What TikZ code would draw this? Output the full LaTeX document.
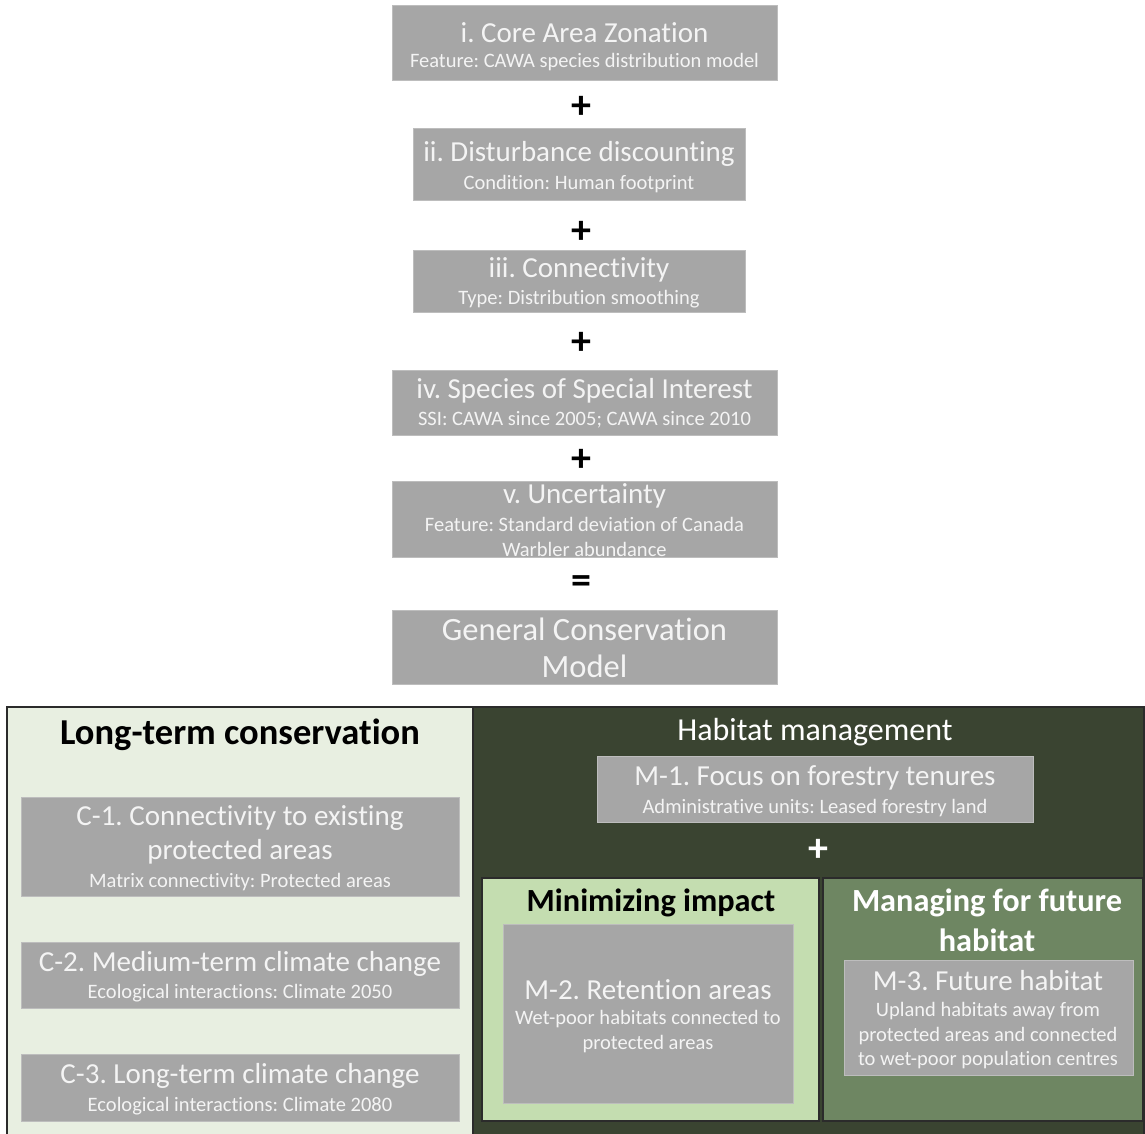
\documentclass[tikz,border=0pt]{standalone}
\usepackage{fontspec}
\setmainfont[Ligatures=NoCommon]{Carlito}
\frenchspacing
\definecolor{boxgray}{HTML}{A6A6A6}
\definecolor{boxedge}{HTML}{BDBDBD}
\definecolor{boxtext}{HTML}{F4F4F4}
\definecolor{lightpanel}{HTML}{E8EFE1}
\definecolor{darkpanel}{HTML}{3A4431}
\definecolor{minpanel}{HTML}{C4DDB0}
\definecolor{futpanel}{HTML}{6E8662}
\definecolor{paneledge}{HTML}{2B2B2B}
\newcommand{\fs}[1]{\fontsize{#1}{#1}\selectfont}
\begin{document}
\begin{tikzpicture}[x=1pt,y=-1pt,
  gbox/.style={draw=boxedge,line width=1pt,fill=boxgray,inner sep=0pt,outer sep=0pt},
  panel/.style={draw=paneledge,line width=1.6pt,inner sep=0pt,outer sep=0pt},
  ttl/.style={text=boxtext,inner sep=0pt,font=\fs{29}},
  big/.style={text=boxtext,inner sep=0pt,font=\fs{32.5}},
  sub/.style={text=boxtext,inner sep=0pt,font=\fs{20.5}},
  op/.style={inner sep=0pt,font=\fs{40}\bfseries},
  hdr/.style={inner sep=0pt,font=\fs{36.5}\bfseries}]
\useasboundingbox (0,0) rectangle (1145,1134);
\fill[white] (0,0) rectangle (1145,1134);

% ---------- top chain ----------
\node[gbox,minimum width=385pt,minimum height=75pt] (b1) at (584.5,43.5) {};
\node[ttl] (b1t) at (584.5,33) {i. Core Area Zonation};
\node[sub] (b1s) at (584.5,62) {Feature: CAWA species distribution model};
\node[op] (p1) at (581,107) {+};

\node[gbox,minimum width=332pt,minimum height=72pt] (b2) at (579,165) {};
\node[ttl] (b2t) at (579,154) {ii. Disturbance discounting};
\node[sub] (b2s) at (579,184) {Condition: Human footprint};
\node[op] (p2) at (581,232) {+};

\node[gbox,minimum width=332pt,minimum height=62pt] (b3) at (579,281) {};
\node[ttl] (b3t) at (579,270) {iii. Connectivity};
\node[sub] (b3s) at (579,299) {Type: Distribution smoothing};
\node[op] (p3) at (581,343) {+};

\node[gbox,minimum width=385pt,minimum height=65pt] (b4) at (584.5,402.5) {};
\node[ttl] (b4t) at (584.5,391) {iv. Species of Special Interest};
\node[sub] (b4s) at (584.5,420) {SSI: CAWA since 2005; CAWA since 2010};
\node[op] (p4) at (581,460) {+};

\node[gbox,minimum width=385pt,minimum height=76pt] (b5) at (584.5,519) {};
\node[ttl] (b5t) at (584.5,496) {v. Uncertainty};
\node[sub] (b5s) at (584.5,524) {Feature: Standard deviation of Canada};
\node[sub] (b5s2) at (584.5,549) {Warbler abundance};
\node[op] (eq) at (581,585) {=};

\node[gbox,minimum width=385pt,minimum height=74pt] (gcm) at (584.5,647) {};
\node[big] (gcm1) at (584.5,629) {General Conservation};
\node[big] (gcm2) at (584.5,666) {Model};

% ---------- bottom panels ----------
\node[panel,fill=lightpanel,minimum width=466pt,minimum height=428pt] (lt) at (240,921) {};
\node[panel,fill=darkpanel,minimum width=671pt,minimum height=428pt] (hm) at (808.5,921) {};

\node[hdr] (ltt) at (240,735) {Long-term conservation};

\node[gbox,minimum width=438pt,minimum height=99pt] (c1) at (240,846.5) {};
\node[ttl] (c1a) at (240,818) {C-1. Connectivity to existing};
\node[ttl] (c1b) at (240,852) {protected areas};
\node[sub] (c1s) at (240,882) {Matrix connectivity: Protected areas};

\node[gbox,minimum width=438pt,minimum height=66pt] (c2) at (240,975) {};
\node[ttl] (c2t) at (240,964) {C-2. Medium-term climate change};
\node[sub] (c2s) at (240,993) {Ecological interactions: Climate 2050};

\node[gbox,minimum width=438pt,minimum height=67pt] (c3) at (240,1087.5) {};
\node[ttl] (c3t) at (240,1076) {C-3. Long-term climate change};
\node[sub] (c3s) at (240,1106) {Ecological interactions: Climate 2080};

\node[inner sep=0pt,text=white,font=\fs{32}] (hmt) at (815,732) {Habitat management};
\node[gbox,minimum width=436pt,minimum height=66pt] (m1) at (815,789) {};
\node[ttl] (m1t) at (815,778) {M-1. Focus on forestry tenures};
\node[sub] (m1s) at (815,808) {Administrative units: Leased forestry land};
\node[op,text=white] (p5) at (818,850) {+};

\node[panel,fill=minpanel,minimum width=337pt,minimum height=243pt] (mi) at (650.5,999.5) {};
\node[panel,fill=futpanel,minimum width=320pt,minimum height=243pt] (mf) at (983,999.5) {};

\node[hdr,font=\fs{32.3}\bfseries] (mit) at (651,903) {Minimizing impact};
\node[gbox,minimum width=290pt,minimum height=179pt] (m2) at (648,1013.5) {};
\node[ttl] (m2t) at (648,990) {M-2. Retention areas};
\node[sub] (m2s) at (648,1019) {Wet-poor habitats connected to};
\node[sub] (m2s2) at (648,1044) {protected areas};

\node[hdr,font=\fs{32.3}\bfseries,text=white] (mft) at (987,903) {Managing for future};
\node[hdr,font=\fs{32.3}\bfseries,text=white] (mft2) at (987,940) {habitat};
\node[gbox,minimum width=289pt,minimum height=115pt] (m3) at (988.5,1017.5) {};
\node[ttl] (m3t) at (988,981) {M-3. Future habitat};
\node[sub] (m3s) at (988,1011) {Upland habitats away from};
\node[sub] (m3s2) at (988,1036) {protected areas and connected};
\node[sub] (m3s3) at (988,1060) {to wet-poor population centres};
\end{tikzpicture}
\end{document}
